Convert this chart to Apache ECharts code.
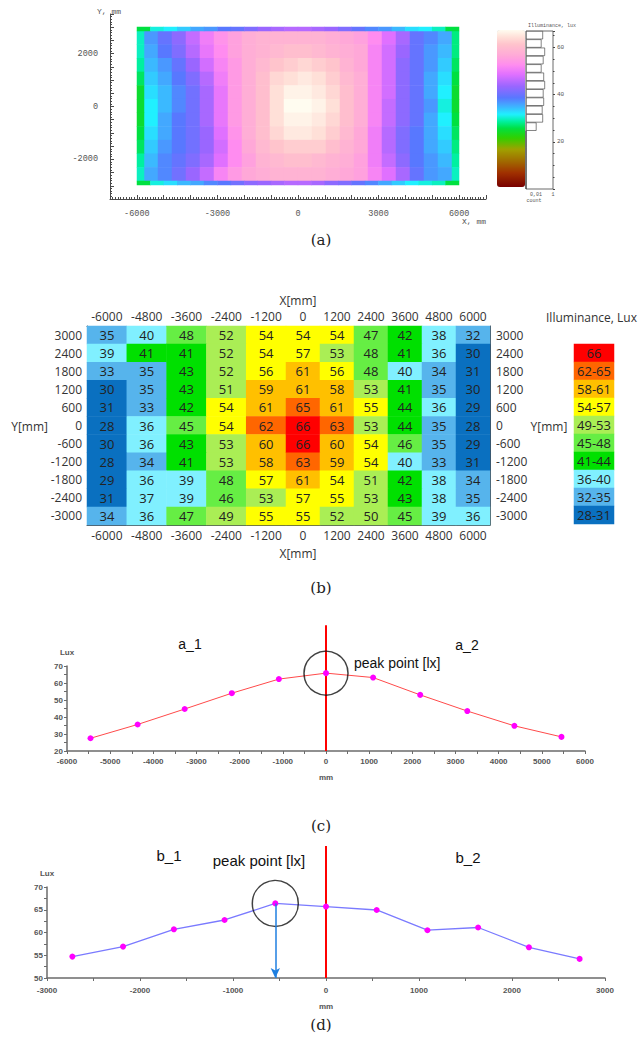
<!DOCTYPE html>
<html>
<head>
<meta charset="utf-8">
<script src="https://cdn.jsdelivr.net/npm/echarts/dist/echarts.min.js"></script>
<style>
html, body { margin: 0; padding: 0; background: #fff; }
#main { width: 643px; height: 1046px; }
</style>
</head>
<body>
<div id="main"></div>
<script>
// ---------------- panel (a): illuminance map, lux ----------------
var aMap = [
    [36,39,42,46,50,53,55,57,58,58,58, 58,58,57,56,55,52,48,44,39,37,35],
    [35,38,41,45,49,52,55,57,58,59,60, 60,59,58,57,56,51,47,43,39,36,34],
    [34,36,39,43,47,51,54,57,59,61,62, 63,62,61,58,56,51,47,42,39,36,33],
    [33,35,38,41,45,50,54,57,60,63,64, 65,64,62,59,57,51,47,42,39,35,32],
    [32,34,37,40,44,49,54,57,60,64,66, 66,65,63,60,57,51,47,42,39,35,31],
    [31,34,37,40,44,49,54,57,60,64,67, 67,66,64,60,57,51,46,42,39,36,30],
    [31,35,38,40,44,49,54,57,60,64,66, 66,65,63,60,57,51,46,42,39,35,31],
    [32,35,38,40,43,48,53,57,60,63,65, 65,64,62,59,56,50,45,41,38,35,32],
    [33,36,38,40,43,47,52,56,59,61,62, 62,62,60,58,56,50,45,41,38,35,33],
    [34,37,39,41,44,48,52,55,58,59,60, 60,59,58,57,55,50,46,42,38,36,34],
    [35,37,40,43,46,51,54,56,57,58,58, 58,58,57,56,55,51,48,44,39,36,35]
];
var aEdgeLeft = [29,29,28,26,24,24,24,25,26,28,29];
var aEdgeRight = [27,27,26,25,24,24,25,26,27,28,29];
var aEdgeTop = [25,30,31,33,35,36,38,39,41,43,44,45,45,44,43,41,39,37,36,34,32,31,29,25];
var aEdgeBottom = [25,30,32,34,35,37,38,40,42,43,44,45,45,44,42,41,39,37,35,33,31,30,29,25];
// histogram beside the colour bar, bins from 67 lux down to 0
var aHistCounts = [17,15.5,19,17.5,15.5,18,19,17.5,18,16.5,17,10.5,0,0,0,0,0,0,0];
// colour stops of the colour bar: [lux, colour]
var aStops = [[0,'#780000'],[6,'#a03000'],[11,'#a06a00'],[16,'#a0a000'],[21,'#30d000'],
              [25,'#00e040'],[28,'#00f0a0'],[31,'#20f0ff'],[34.5,'#40b0ff'],[38,'#5878ff'],
              [43,'#9a66ff'],[48,'#e070ff'],[52,'#ff8cf0'],[56,'#ffa8d8'],[61,'#ffc4cc'],
              [64,'#ffe0d8'],[67,'#fffcf0']];

// ---------------- panel (b): measured grid ----------------
var bXLabels = ['-6000','-4800','-3600','-2400','-1200','0','1200','2400','3600','4800','6000'];
var bYLabels = ['3000','2400','1800','1200','600','0','-600','-1200','-1800','-2400','-3000'];
var bVals = [
    [35,40,48,52,54,54,54,47,42,38,32],
    [39,41,41,52,54,57,53,48,41,36,30],
    [33,35,43,52,56,61,56,48,40,34,31],
    [30,35,43,51,59,61,58,53,41,35,30],
    [31,33,42,54,61,65,61,55,44,36,29],
    [28,36,45,54,62,66,63,53,44,35,28],
    [30,36,43,53,60,66,60,54,46,35,29],
    [28,34,41,53,58,63,59,54,40,33,31],
    [29,36,39,48,57,61,54,51,42,38,34],
    [31,37,39,46,53,57,55,53,43,38,35],
    [34,36,47,49,55,55,52,50,45,39,36]
];
var bLegendLabels = ['66','62-65','58-61','54-57','49-53','45-48','41-44','36-40','32-35','28-31'];
var bLegendValues = [66,63,60,55,51,46,42,38,33,30];
var bRanges = [[66,66],[62,65],[58,61],[54,57],[49,53],[45,48],[41,44],[36,40],[32,35],[28,31]];
var bColors = ['#ff0000','#ff6600','#ffc000','#ffff00','#aaee55','#66ee44','#00e000','#80f0ff','#56b4ec','#0a70c0'];

// ---------------- panel (c): profile a_1 / a_2 ----------------
var cX = [-5455,-4364,-3273,-2182,-1091,0,1091,2182,3273,4364,5455];
var cY = [27.5,35.6,44.7,54,62.3,65.8,63.2,53,43.5,34.8,28.3];

// ---------------- panel (d): profile b_1 / b_2 ----------------
var dX = [-2727,-2182,-1636,-1091,-545,0,545,1091,1636,2182,2727];
var dY = [54.7,56.9,60.7,62.75,66.4,65.7,64.95,60.5,61.1,56.75,54.2];

var FONT_B = '"Open Sans", sans-serif';
var FONT_C = '"Liberation Sans", Arial, sans-serif';
var FONT_A = '"Liberation Mono", monospace';

var grids = [], xAxes = [], yAxes = [], series = [], texts = [];

// evenly spaced colour list for the continuous visualMap, built from the stops
function hexToRgb(h) {
    return [parseInt(h.substr(1, 2), 16), parseInt(h.substr(3, 2), 16), parseInt(h.substr(5, 2), 16)];
}
function buildPalette(stops, max) {
    var out = [];
    for (var v = 0; v <= max; v++) {
        var k = 0;
        while (k < stops.length - 2 && stops[k + 1][0] < v) k++;
        var a = stops[k], b = stops[k + 1];
        var t = Math.max(0, Math.min(1, (v - a[0]) / (b[0] - a[0])));
        var ca = hexToRgb(a[1]), cb = hexToRgb(b[1]);
        out.push('rgb(' + ca.map(function (c, i) { return Math.round(c + (cb[i] - c) * t); }).join(',') + ')');
    }
    return out;
}

function names(n) {
    var r = [];
    for (var i = 0; i < n; i++) r.push('c' + i);
    return r;
}
function cells(m) {
    var out = [];
    for (var r = 0; r < m.length; r++)
        for (var c = 0; c < m[r].length; c++) out.push([c, r, m[r][c]]);
    return out;
}
function addGrid(box) {
    grids.push(Object.assign({ containLabel: false, outerBoundsMode: 'none' }, box));
    return grids.length - 1;
}
function addHeat(box, m, xData, yData, extra) {
    var g = addGrid(box);
    xAxes.push({ type: 'category', gridIndex: g, data: xData || names(m[0].length), show: false });
    yAxes.push({ type: 'category', gridIndex: g, data: yData || names(m.length), inverse: true, show: false });
    series.push(Object.assign({
        type: 'heatmap', xAxisIndex: xAxes.length - 1, yAxisIndex: yAxes.length - 1,
        data: cells(m), silent: true, emphasis: { disabled: true }
    }, extra || {}));
    return { grid: g, x: xAxes.length - 1, y: yAxes.length - 1, s: series.length - 1 };
}
function txt(x, y, s, font, align, color) {
    texts.push({
        type: 'text', x: x, y: y, silent: true,
        style: { text: s, font: font, fill: color || '#222',
                 textAlign: align || 'center', textVerticalAlign: 'middle',
                 align: align || 'center', verticalAlign: 'middle' }
    });
}

// ================= (a) =================
var aMain = addHeat({ left: 144, top: 31, width: 308, height: 150 }, aMap);
var aL = addHeat({ left: 137, top: 31, width: 7, height: 150 }, aEdgeLeft.map(function (v) { return [v]; }));
var aR = addHeat({ left: 452, top: 31, width: 7, height: 150 }, aEdgeRight.map(function (v) { return [v]; }));
var aT = addHeat({ left: 137, top: 27, width: 322, height: 4 }, [aEdgeTop]);
var aB = addHeat({ left: 137, top: 181, width: 322, height: 4 }, [aEdgeBottom]);

var aAxisColor = '#4a4a4a';
var gA = addGrid({ left: 110, top: 14, width: 376, height: 185 });
xAxes.push({
    type: 'value', gridIndex: gA, min: -7000, max: 7000, interval: 1000,
    axisLine: { show: true, onZero: false, lineStyle: { color: aAxisColor, width: 1 } },
    axisTick: { show: true, inside: true, length: 4, lineStyle: { color: aAxisColor } },
    minorTick: { show: true, splitNumber: 10, length: 2, lineStyle: { color: aAxisColor } },
    splitLine: { show: false },
    axisLabel: { margin: 10, fontSize: 8.5, color: '#555', fontFamily: FONT_A,
                 formatter: function (v) { return v % 3000 === 0 ? String(v) : ''; } }
});
yAxes.push({
    type: 'value', gridIndex: gA, min: -3500, max: 3500, interval: 500,
    axisLine: { show: true, onZero: false, lineStyle: { color: aAxisColor, width: 1 } },
    axisTick: { show: true, inside: true, length: 4, lineStyle: { color: aAxisColor } },
    minorTick: { show: true, splitNumber: 5, length: 2, lineStyle: { color: aAxisColor } },
    splitLine: { show: false },
    axisLabel: { margin: 12, fontSize: 8.5, color: '#555', fontFamily: FONT_A,
                 formatter: function (v) { return v % 2000 === 0 ? String(v) : ''; } }
});
txt(109, 11, 'Y, mm', '8px ' + FONT_A, 'center', '#555');
txt(474, 221, 'X, mm', '8px ' + FONT_A, 'center', '#555');

// histogram box next to the colour bar
var gH = addGrid({ left: 526, top: 31, width: 27, height: 158, show: true, borderColor: '#444', borderWidth: 0.8 });
xAxes.push({ type: 'value', gridIndex: gH, min: 0, max: 27, show: false });
var hxi = xAxes.length - 1;
yAxes.push({ type: 'category', gridIndex: gH, data: names(aHistCounts.length), inverse: true, show: false });
var hyi = yAxes.length - 1;
yAxes.push({
    type: 'value', gridIndex: gH, min: 0, max: 67, interval: 20, position: 'right',
    axisLine: { show: false },
    axisTick: { show: true, length: 2, lineStyle: { color: '#444' } },
    minorTick: { show: true, splitNumber: 4, length: 1.5, lineStyle: { color: '#444' } },
    splitLine: { show: false },
    axisLabel: { margin: 4, fontSize: 6, color: '#555', fontFamily: FONT_A,
                 formatter: function (v) { return (v > 0 && v % 20 === 0) ? String(v) : ''; } }
});
series.push({
    type: 'bar', xAxisIndex: hxi, yAxisIndex: hyi, data: aHistCounts, silent: true,
    barCategoryGap: '0%',
    itemStyle: { color: '#fff', borderColor: '#333', borderWidth: 0.6 }
});
txt(552, 26, 'Illuminance, lux', '5px ' + FONT_A, 'center', '#555');
txt(536, 195, '0,01', '5px ' + FONT_A, 'center', '#555');
txt(553, 195, '1', '5px ' + FONT_A, 'center', '#555');
txt(534, 201, 'count', '5px ' + FONT_A, 'center', '#555');

// ================= (b) =================
var bLabel = {
    show: true, color: '#222', fontSize: 13, fontFamily: FONT_B,
    formatter: function (p) { return String(p.value[2]); }
};
var bLeftM = bVals.map(function (row) { return row.slice(0, 5); });
var bRightM = bVals.map(function (row) { return row.slice(5); });
var bl = addHeat({ left: 87, top: 326, width: 199, height: 199 }, bLeftM, bXLabels.slice(0, 5), bYLabels, { label: bLabel });
var br = addHeat({ left: 286, top: 326, width: 204, height: 199 }, bRightM, bXLabels.slice(5), bYLabels, { label: bLabel });

var bFrame = { show: true, onZero: false, lineStyle: { color: '#4a4f55', width: 1 } };
var bAxisLabel = { interval: 0, color: '#333', fontSize: 12, fontFamily: FONT_B };
[bl, br].forEach(function (h, k) {
    Object.assign(xAxes[h.x], {
        show: true, position: 'top', axisLine: bFrame, axisTick: { show: false },
        axisLabel: Object.assign({ margin: 4 }, bAxisLabel)
    });
    xAxes.push({
        type: 'category', gridIndex: h.grid, data: xAxes[h.x].data, position: 'bottom',
        axisLine: bFrame, axisTick: { show: false },
        axisLabel: Object.assign({ margin: 4 }, bAxisLabel)
    });
    Object.assign(yAxes[h.y], {
        show: true, position: k === 0 ? 'left' : 'right', axisLine: bFrame, axisTick: { show: false },
        axisLabel: Object.assign({ margin: k === 0 ? 5 : 6 }, bAxisLabel)
    });
});
txt(298, 300, 'X[mm]', '12px ' + FONT_B, 'center', '#333');
txt(298, 553, 'X[mm]', '12px ' + FONT_B, 'center', '#333');
txt(48, 426, 'Y[mm]', '12px ' + FONT_B, 'right', '#333');
txt(549, 426, 'Y[mm]', '12px ' + FONT_B, 'center', '#333');
txt(546, 317, 'Illuminance, Lux', '12px ' + FONT_B, 'left', '#333');

var leg = addHeat({ left: 574, top: 344, width: 40, height: 180 },
    bLegendValues.map(function (v) { return [v]; }), null, null, {
        label: { show: true, color: '#222', fontSize: 13, fontFamily: FONT_B,
                 formatter: function (p) { return bLegendLabels[p.value[1]]; } }
    });

// ================= (c) and (d) line profiles =================
var lineAxisColor = '#6b6b6b';
function profileAxes(box, xr, yr, nameGapX, labelMarginX) {
    var g = addGrid(box);
    var lbl = { fontSize: 8, color: '#555', fontWeight: 'bold', fontFamily: FONT_C,
                formatter: function (v) { return String(v); } };
    xAxes.push({
        type: 'value', gridIndex: g, min: xr[0], max: xr[1], interval: xr[2],
        name: 'mm', nameLocation: 'middle', nameGap: nameGapX,
        nameTextStyle: { fontSize: 8, color: '#555', fontWeight: 'bold', fontFamily: FONT_C },
        axisLine: { show: true, onZero: false, lineStyle: { color: lineAxisColor, width: 1.5 } },
        axisTick: { show: true, length: 3, lineStyle: { color: lineAxisColor, width: 1 } },
        minorTick: { show: true, splitNumber: 2, length: 3, lineStyle: { color: lineAxisColor, width: 1 } },
        splitLine: { show: false },
        axisLabel: Object.assign({ margin: labelMarginX }, lbl)
    });
    yAxes.push({
        type: 'value', gridIndex: g, min: yr[0], max: yr[1], interval: yr[2],
        name: 'Lux', nameLocation: 'end', nameGap: 10,
        nameTextStyle: { fontSize: 8, color: '#555', fontWeight: 'bold', fontFamily: FONT_C },
        axisLine: { show: true, onZero: false, lineStyle: { color: lineAxisColor, width: 1.5 } },
        axisTick: { show: true, length: 3, lineStyle: { color: lineAxisColor, width: 1 } },
        minorTick: { show: true, splitNumber: 2, length: 3, lineStyle: { color: lineAxisColor, width: 1 } },
        splitLine: { show: false },
        axisLabel: Object.assign({ margin: 4 }, lbl)
    });
    return { x: xAxes.length - 1, y: yAxes.length - 1 };
}
function pairs(xs, ys) {
    return xs.map(function (x, i) { return [x, ys[i]]; });
}
function peakIndex(ys) {
    var k = 0;
    for (var i = 1; i < ys.length; i++) if (ys[i] > ys[k]) k = i;
    return k;
}

// (c)
var cAx = profileAxes({ left: 67, top: 666, width: 518, height: 85 }, [-6000, 6000, 1000], [20, 70, 10], 22, 6);
var cPk = peakIndex(cY);
series.push({
    type: 'line', xAxisIndex: cAx.x, yAxisIndex: cAx.y, data: [[0, 20], [0, 94]],
    symbol: 'none', clip: false, silent: true, z: 2,
    lineStyle: { color: '#ff0000', width: 2 }
});
series.push({
    type: 'line', xAxisIndex: cAx.x, yAxisIndex: cAx.y, data: pairs(cX, cY),
    symbol: 'circle', symbolSize: 6, silent: true, z: 3,
    lineStyle: { color: '#ff4a4a', width: 1 }, itemStyle: { color: '#ff00ff' }
});
series.push({
    type: 'scatter', xAxisIndex: cAx.x, yAxisIndex: cAx.y, data: [[cX[cPk], cY[cPk]]],
    symbolSize: 44, silent: true, z: 4,
    itemStyle: { color: 'rgba(0,0,0,0)', borderColor: '#111', borderWidth: 1.5 }
});
txt(190, 644, 'a_1', '14px ' + FONT_C, 'center', '#111');
txt(467, 645, 'a_2', '14px ' + FONT_C, 'center', '#111');
txt(354, 663, 'peak point [lx]', '14px ' + FONT_C, 'left', '#111');

// (d)
var dAx = profileAxes({ left: 47, top: 887, width: 558, height: 91 }, [-3000, 3000, 1000], [50, 70, 5], 24, 8);
var dPk = peakIndex(dY);
series.push({
    type: 'line', xAxisIndex: dAx.x, yAxisIndex: dAx.y, data: [[0, 50], [0, 79]],
    symbol: 'none', clip: false, silent: true, z: 2,
    lineStyle: { color: '#ff0000', width: 2 }
});
series.push({
    type: 'line', xAxisIndex: dAx.x, yAxisIndex: dAx.y, data: pairs(dX, dY),
    symbol: 'circle', symbolSize: 6, silent: true, z: 3,
    lineStyle: { color: '#7a7aff', width: 1.3 }, itemStyle: { color: '#ff00ff' },
    markLine: {
        silent: true, symbol: ['none', 'arrow'], symbolSize: [7, 10],
        label: { show: false },
        lineStyle: { color: '#1f7fe0', width: 1.5, type: 'solid' },
        data: [[{ coord: [dX[dPk], dY[dPk]] }, { coord: [dX[dPk], 50] }]]
    }
});
series.push({
    type: 'scatter', xAxisIndex: dAx.x, yAxisIndex: dAx.y, data: [[dX[dPk], dY[dPk]]],
    symbolSize: 46, silent: true, z: 4,
    itemStyle: { color: 'rgba(0,0,0,0)', borderColor: '#111', borderWidth: 1.5 }
});
txt(169, 855, 'b_1', '15px ' + FONT_C, 'center', '#111');
txt(468, 857, 'b_2', '15px ' + FONT_C, 'center', '#111');
txt(259, 860, 'peak point [lx]', '15px ' + FONT_C, 'center', '#111');

// captions
var capFont = '15px "DejaVu Serif", serif';
txt(321, 240, '(a)', capFont, 'center', '#222');
txt(321, 588, '(b)', capFont, 'center', '#222');
txt(321, 826, '(c)', capFont, 'center', '#222');
txt(321, 1025, '(d)', capFont, 'center', '#222');

var chart = echarts.init(document.getElementById('main'), null, { renderer: 'svg' });
chart.setOption({
    animation: false,
    backgroundColor: '#fff',
    grid: grids,
    xAxis: xAxes,
    yAxis: yAxes,
    visualMap: [
        {
            type: 'continuous', min: 0, max: 67, calculable: false,
            seriesIndex: [aMain.s, aL.s, aR.s, aT.s, aB.s],
            inRange: { color: buildPalette(aStops, 67) },
            left: 497, top: 30, itemWidth: 28, itemHeight: 157, padding: 0
        },
        {
            type: 'piecewise', show: false,
            seriesIndex: [bl.s, br.s, leg.s],
            pieces: bRanges.map(function (r, i) { return { gte: r[0], lte: r[1], color: bColors[i] }; })
        }
    ],
    series: series,
    graphic: { elements: texts }
});
</script>
</body>
</html>
